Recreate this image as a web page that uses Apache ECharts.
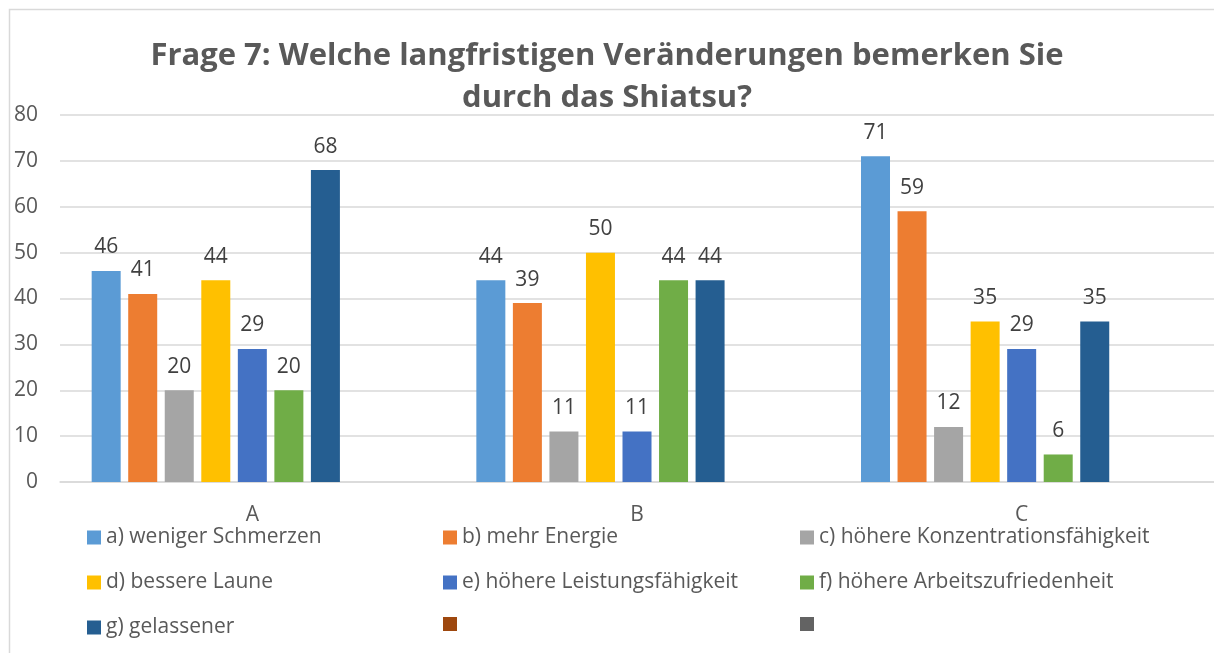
<!DOCTYPE html>
<html lang="de">
<head>
    <meta charset="UTF-8">
    <title>Frage 7</title>
    <style>
        html, body { margin: 0; padding: 0; background: #fff; }
        .box { width: 1214px; height: 653px; }
    </style>
</head>
<body>
    <div class="box"></div>
    <script src="https://cdn.jsdelivr.net/npm/echarts@6/dist/echarts.min.js"></script>
    <script>
        // Daten
        var categories = ['A', 'B', 'C'];
        var seriesNames = [
            'a) weniger Schmerzen',
            'b) mehr Energie',
            'c) höhere Konzentrationsfähigkeit',
            'd) bessere Laune',
            'e) höhere Leistungsfähigkeit',
            'f) höhere Arbeitszufriedenheit',
            'g) gelassener'
        ];
        var valuesA = [46, 41, 20, 44, 29, 20, 68];
        var valuesB = [44, 39, 11, 50, 11, 44, 44];
        var valuesC = [71, 59, 12, 35, 29, 6, 35];
        var yTicks = [0, 10, 20, 30, 40, 50, 60, 70, 80];

        var colors = ['#5B9BD5', '#ED7D31', '#A5A5A5', '#FFC000', '#4472C4', '#70AD47', '#255E91'];
        // zwei leere Serien (nehmen trotzdem Platz ein, wie im Original)
        var emptyNames = ['h', 'i'];
        var emptyColors = ['#9E480E', '#636363'];

        var myChart = echarts.init(document.getElementsByClassName('box')[0]);
        var font = '"Open Sans", sans-serif';

        var series = [];
        seriesNames.forEach(function (name, i) {
            series.push({
                name: name,
                type: 'bar',
                barWidth: 29,
                barGap: '26%',
                itemStyle: { color: colors[i] },
                label: {
                    show: true,
                    position: 'top',
                    distance: 13,
                    color: '#404040',
                    fontSize: 21,
                    fontFamily: font
                },
                data: [valuesA[i], valuesB[i], valuesC[i]]
            });
        });
        emptyNames.forEach(function (name, i) {
            series.push({
                name: name,
                type: 'bar',
                barWidth: 29,
                barGap: '26%',
                itemStyle: { color: emptyColors[i] },
                data: [null, null, null]
            });
        });

        function makeLegend(left, names) {
            return {
                orient: 'vertical',
                left: left,
                top: 522,
                icon: 'rect',
                itemWidth: 14,
                itemHeight: 14,
                itemGap: 24,
                selectedMode: false,
                textStyle: { fontSize: 21, color: '#595959', fontFamily: font },
                formatter: function (n) {
                    return emptyNames.indexOf(n) >= 0 ? '' : n;
                },
                data: names
            };
        }

        var option = {
            animation: false,
            title: {
                text: 'Frage 7: Welche langfristigen Veränderungen bemerken Sie\ndurch das Shiatsu?',
                left: 'center',
                top: 30,
                textStyle: {
                    fontSize: 31,
                    fontWeight: 'bold',
                    color: '#595959',
                    fontFamily: font,
                    lineHeight: 42
                }
            },
            graphic: [{
                type: 'rect',
                shape: { x: 9.5, y: 9.5, width: 1300, height: 700 },
                style: { fill: 'none', stroke: '#d9d9d9', lineWidth: 1.5 },
                silent: true
            }],
            legend: [
                makeLegend(82, [seriesNames[0], seriesNames[3], seriesNames[6]]),
                makeLegend(438, [seriesNames[1], seriesNames[4], emptyNames[0]]),
                makeLegend(795, [seriesNames[2], seriesNames[5], emptyNames[1]])
            ],
            grid: {
                left: 60,
                right: 0,
                top: 115,
                bottom: 171
            },
            xAxis: {
                type: 'category',
                data: categories,
                axisLine: { lineStyle: { color: '#d9d9d9', width: 1.5 } },
                axisTick: { show: false },
                axisLabel: { color: '#595959', fontSize: 21, fontFamily: font, margin: 23 }
            },
            yAxis: {
                type: 'value',
                min: yTicks[0],
                max: yTicks[yTicks.length - 1],
                interval: 10,
                axisLine: { show: false },
                axisTick: { show: false },
                splitLine: { lineStyle: { color: '#d9d9d9', width: 1.5 } },
                axisLabel: { color: '#595959', fontSize: 21, fontFamily: font, margin: 22 }
            },
            series: series
        };
        myChart.setOption(option);
    </script>
</body>
</html>
